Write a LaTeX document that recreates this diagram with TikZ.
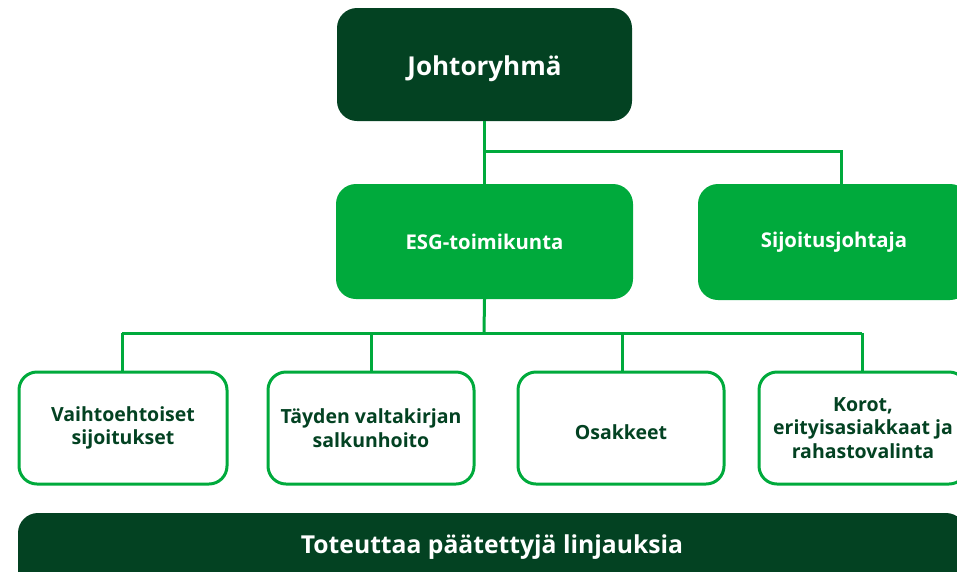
\documentclass[tikz,border=0pt]{standalone}
\usepackage{fontspec}
\setmainfont{Open Sans}
\definecolor{dkgreen}{HTML}{034222}
\definecolor{brgreen}{HTML}{00AA3C}
\begin{document}
\begin{tikzpicture}[x=1pt,y=-1pt,
  boxdark/.style={fill=dkgreen,rounded corners=20pt,text=white,font=\bfseries\fontsize{26}{30}\selectfont,align=center,inner sep=0pt},
  boxmid/.style={fill=brgreen,rounded corners=20pt,text=white,font=\fontsize{20.3}{24}\selectfont\bfseries,align=center,inner sep=0pt},
  boxlow/.style={draw=brgreen,line width=3pt,fill=white,rounded corners=18pt,text=dkgreen,font=\bfseries\fontsize{19.5}{23.5}\selectfont,align=center,inner sep=0pt},
  conn/.style={draw=brgreen,line width=3pt}]
\useasboundingbox (0,0) rectangle (957,571);
\begin{scope}
\clip (0,0) rectangle (957,571);
% connectors
\coordinate (j1) at (484,151);
\coordinate (j2) at (841,151);
\coordinate (e1) at (484,333);
\coordinate (l1) at (122,333);
\coordinate (l2) at (371,333);
\coordinate (l3) at (622,333);
\coordinate (l4) at (862,333);
\node[boxdark,minimum width=295pt,minimum height=113pt] (joh) at (484.5,64.5) {};
\node[text=white,font=\bfseries\fontsize{26}{30}\selectfont,inner sep=0pt] (johtxt) at (484.5,69) {Johtoryhmä};
\node[boxmid,minimum width=297pt,minimum height=115pt] (esg) at (484.5,241.5) {ESG-toimikunta};
\node[boxmid,minimum width=272pt,minimum height=116pt,text width=272pt] (sij) at (834,242) {Sijoitusjohtaja};
\path[conn] (joh.south) -- (esg.north);
\path[conn] (j1) -- (j2) -- (j2 |- sij.north);
\path[conn] (esg.south) -- (e1);
\path[conn] (l1) -- (l4);
\node[boxlow,minimum width=208pt,minimum height=112pt] (b1) at (123,428) {Vaihtoehtoiset\\sijoitukset};
\node[boxlow,minimum width=206pt,minimum height=112pt] (b2) at (371,428) {Täyden valtakirjan\\salkunhoito};
\node[boxlow,minimum width=206pt,minimum height=112pt] (b3) at (621,428) {};
\node[text=dkgreen,font=\bfseries\fontsize{19.5}{23.5}\selectfont,inner sep=0pt] (b3txt) at (621,432) {Osakkeet};
\node[boxlow,minimum width=208pt,minimum height=112pt] (b4) at (863,428) {Korot,\\erityisasiakkaat ja\\rahastovalinta};
\path[conn] (l1) -- (l1 |- b1.north);
\path[conn] (l2) -- (l2 |- b2.north);
\path[conn] (l3) -- (l3 |- b3.north);
\path[conn] (l4) -- (l4 |- b4.north);
\node[boxdark,minimum width=948pt,minimum height=78pt] (bar) at (492,552) {};
\node[text=white,font=\bfseries\fontsize{24.7}{28}\selectfont,inner sep=0pt] (bartxt) at (492,547) {Toteuttaa päätettyjä linjauksia};
\end{scope}
\end{tikzpicture}
\end{document}
